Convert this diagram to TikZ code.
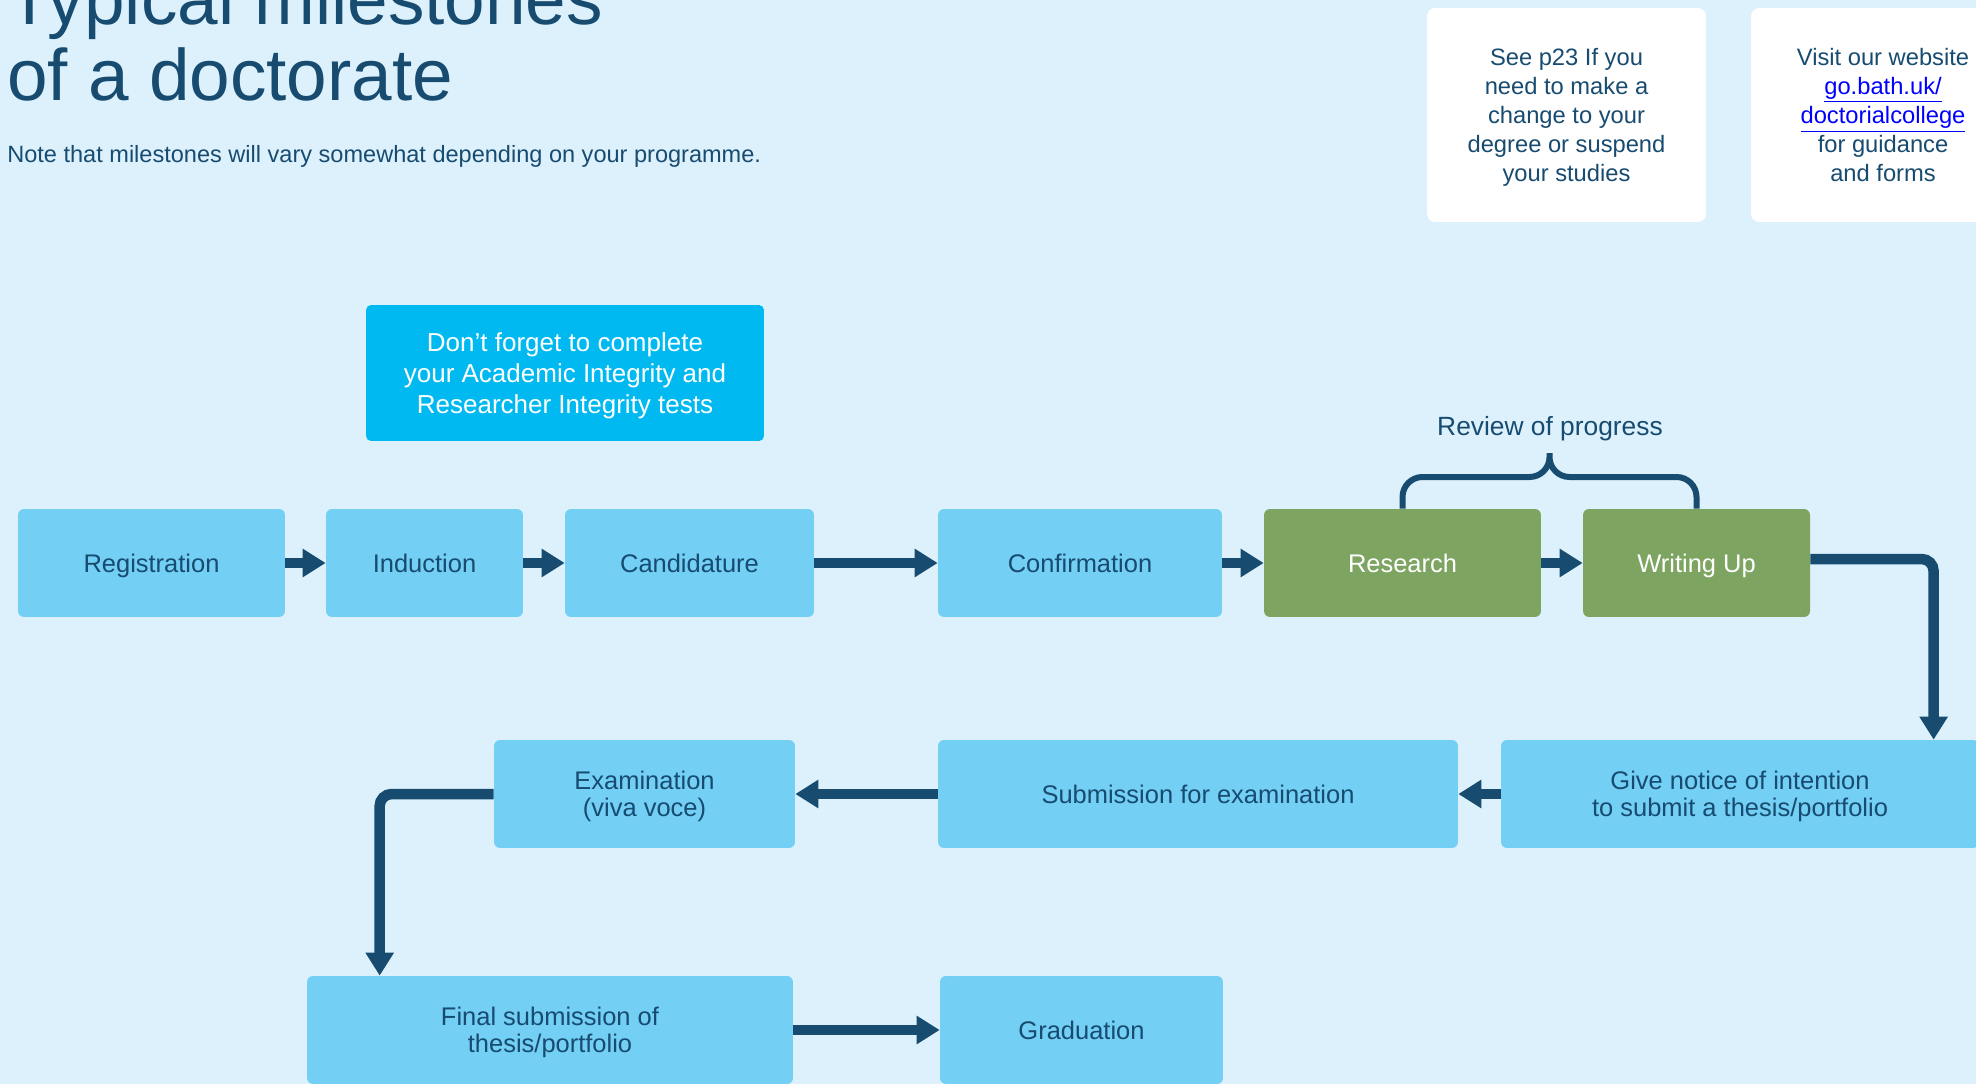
\documentclass[tikz,border=0pt]{standalone}
\usepackage{fontspec}
\setmainfont{Liberation Sans}
\usepackage{tikz}
\usetikzlibrary{positioning, arrows.meta}
\usepackage{xcolor}

\definecolor{pagebg}{HTML}{DCF1FC}
\definecolor{boxblue}{HTML}{73CFF4}
\definecolor{navy}{HTML}{174B70}
\definecolor{leaf}{HTML}{7EA461}
\definecolor{sky}{HTML}{00B9F1}

\begin{document}
\begin{tikzpicture}[x=0.02cm, y=-0.02cm,
    milestone/.style={rectangle, rounded corners=0.12cm, fill=boxblue, text=navy, minimum height=2.16cm, inner sep=0pt, text depth=0pt, align=center, font=\fontsize{14.5}{15.5}\selectfont},
    phase/.style={milestone, fill=leaf, text=white},
    infobox/.style={rectangle, rounded corners=0.16cm, fill=white, text=navy, minimum height=4.28cm, inner sep=0pt, text depth=0pt, align=center, font=\fontsize{13.5}{16.6}\selectfont},
    flow/.style={navy, line width=0.21cm, -{Triangle[length=0.46cm, width=0.54cm]}}]
    % Background
    \fill[pagebg] (0,0) rectangle (1976,1084);
    \useasboundingbox (0,0) rectangle (1976,1084);

    % Title and note
    \node[anchor=base west, align=left, text=navy, inner sep=0pt, font=\fontsize{41.5}{43.3}\selectfont] (title) at (7,101) {Typical milestones\\of a doctorate};
    \node[anchor=base west, text=navy, inner sep=0pt, font=\fontsize{13.4}{16}\selectfont] (note) at (7,163) {Note that milestones will vary somewhat depending on your programme.};

    % Side boxes
    \node[infobox, minimum width=5.58cm] (change) at (1566.5,115) {See p23 If you\\need to make a\\change to your\\degree or suspend\\your studies};
    \node[infobox, minimum width=5.28cm] (web) at (1883,115) {Visit our website\\\textcolor{blue}{\underline{go.bath.uk/}}\\\textcolor{blue}{\underline{doctorialcollege}}\\for guidance\\and forms};

    % Reminder
    \node[rectangle, rounded corners=0.1cm, fill=sky, text=white, minimum width=7.96cm, minimum height=2.72cm, inner sep=0pt, text depth=0pt, align=center, font=\fontsize{14.8}{17.6}\selectfont] (tests) at (565,373) {Don’t forget to complete\\your Academic Integrity and\\Researcher Integrity tests};

    % First row
    \node[milestone, minimum width=5.34cm] (reg) at (151.5,563) {Registration};
    \node[milestone, minimum width=3.94cm] (ind) at (424.5,563) {Induction};
    \node[milestone, minimum width=4.98cm] (cand) at (689.5,563) {Candidature};
    \node[milestone, minimum width=5.68cm] (conf) at (1080,563) {Confirmation};
    \node[phase, minimum width=5.54cm] (res) at (1402.5,563) {Research};
    \node[phase, minimum width=4.54cm] (wri) at (1696.5,563) {Writing Up};

    % Second row
    \node[milestone, minimum width=9.56cm] (notice) at (1740,794) {Give notice of intention\\to submit a thesis/portfolio};
    \node[milestone, minimum width=10.4cm] (subm) at (1198,794) {Submission for examination};
    \node[milestone, minimum width=6.02cm] (exam) at (644.5,794) {Examination\\(viva voce)};

    % Third row
    \node[milestone, minimum width=9.72cm] (final) at (550,1030) {Final submission of\\thesis/portfolio};
    \node[milestone, minimum width=5.66cm] (grad) at (1081.5,1030) {Graduation};

    % Review of progress
    \draw[navy, line width=0.12cm, rounded corners=0.4cm] (res.north) |- (1549.5,477) -- (1549.5,453) (1549.5,453) -- (1549.5,477) -| (wri.north);
    \node[anchor=base, text=navy, inner sep=0pt, font=\fontsize{15}{18}\selectfont] (review) at (1550,435) {Review of progress};

    % Arrows
    \draw[flow] (reg) -- (ind);
    \draw[flow] (ind) -- (cand);
    \draw[flow] (cand) -- (conf);
    \draw[flow] (conf) -- (res);
    \draw[flow] (res) -- (wri);
    \draw[flow, rounded corners=0.24cm] ([yshift=0.08cm]wri.east) -| ([xshift=8.66cm]notice.north west);
    \draw[flow] (notice) -- (subm);
    \draw[flow] (subm) -- (exam);
    \draw[flow, rounded corners=0.24cm] (exam) -| ([xshift=1.46cm]final.north west);
    \draw[flow] (final) -- (grad);
\end{tikzpicture}
\end{document}
